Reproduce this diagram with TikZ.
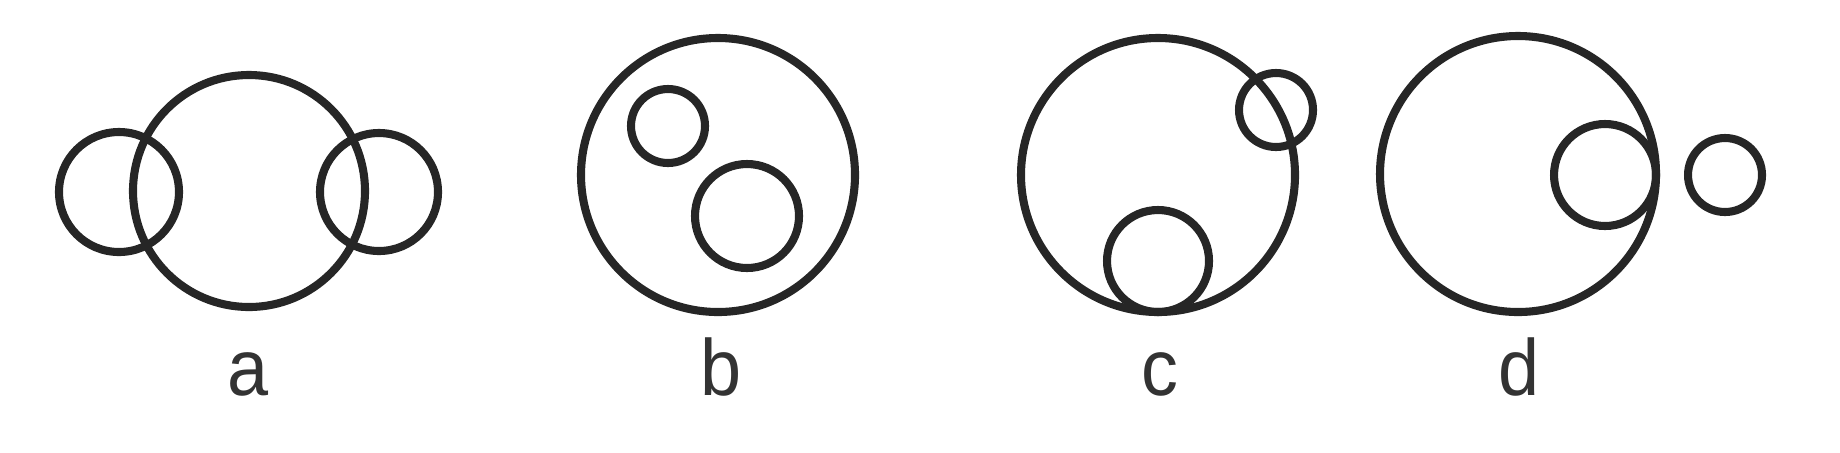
\documentclass[tikz,border=0pt]{standalone}
\usepackage{fontspec}
\setmainfont{Liberation Sans}
\usepackage{tikz}

\begin{document}
\begin{tikzpicture}[ring/.style={line width=2.3pt,draw=black!85},lbl/.style={font=\fontsize{21}{25}\selectfont,text=black!80,anchor=base,inner sep=0pt,yscale=1.08}]
            \useasboundingbox (0,0) rectangle (18.4,4.52);

            % a
            \draw[ring] (2.49,2.61) circle (1.16);
            \draw[ring] (1.19,2.60) circle (0.60);
            \draw[ring] (3.79,2.60) circle (0.59);

            % b
            \draw[ring] (7.18,2.77) circle (1.37);
            \draw[ring] (6.68,3.26) circle (0.37);
            \draw[ring] (7.47,2.36) circle (0.52);

            % c
            \draw[ring] (11.58,2.77) circle (1.37);
            \draw[ring] (12.76,3.42) circle (0.37);
            \draw[ring] (11.58,1.91) circle (0.51);

            % d
            \draw[ring] (15.18,2.78) circle (1.38);
            \draw[ring] (16.05,2.77) circle (0.51);
            \draw[ring] (17.25,2.77) circle (0.37);

            \node[lbl] (la) at (2.48,0.57) {a};
            \node[lbl] (lb) at (7.21,0.57) {b};
            \node[lbl] (lc) at (11.60,0.57) {c};
            \node[lbl] (ld) at (15.19,0.57) {d};
        \end{tikzpicture}
\end{document}
